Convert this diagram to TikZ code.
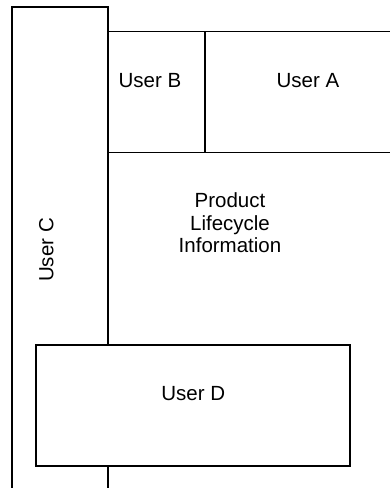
\documentclass[tikz,border=0pt]{standalone}
\usepackage{fontspec}
\setmainfont{Liberation Sans}
\begin{document}
\begin{tikzpicture}[x=1pt,y=-1pt,
  box/.style={draw=black, line width=1.3pt, fill=white, rectangle, inner sep=0pt},
  lbl/.style={font=\fontsize{20.5}{22.7}\selectfont, inner sep=0pt, anchor=base, align=center}]
\useasboundingbox (0,0) rectangle (390,488);
\clip (0,0) rectangle (390,488);
% Product Lifecycle Information area (extends beyond the picture)
\node[box, minimum width=312pt, minimum height=357.5pt] (P) at (264,331.25) {};
% User C (extends below the picture)
\node[box, minimum width=96pt, minimum height=503pt] (C) at (60,258.5) {};
% User B
\node[box, minimum width=97pt, minimum height=121pt] (B) at (156.5,92) {};
% User A (extends beyond the right edge)
\node[box, minimum width=206pt, minimum height=121pt] (A) at (308,92) {};
% User D
\node[box, minimum width=314pt, minimum height=121pt] (D) at (193,405.5) {};
% labels
\node[lbl] (tB) at (150,87.3) {User B};
\node[lbl] (tA) at (308,87.3) {User A};
\node[lbl] (tP) at (230,252.7) {Product\\Lifecycle\\Information};
\node[lbl, rotate=90] (tC) at (53.3,250) {User C};
\node[lbl] (tD) at (193.3,400) {User D};
\end{tikzpicture}
\end{document}
